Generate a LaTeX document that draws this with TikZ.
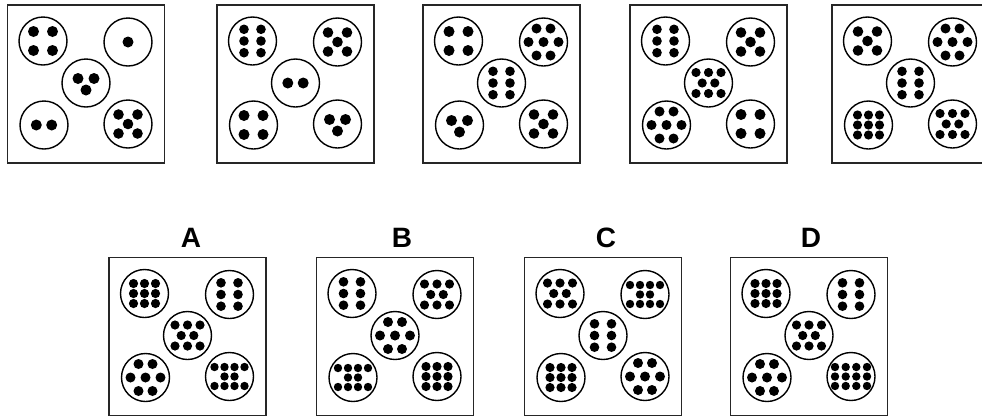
\documentclass[tikz,border=0pt]{standalone}
\usepackage{fontspec}
\setmainfont{Liberation Sans}
\tikzset{
  box/.style={draw=black!85, line width=1.6pt, minimum width=157pt, minimum height=158pt, inner sep=0pt},
  ring/.style={draw=black, circle, line width=1.4pt, minimum size=48pt, inner sep=0pt},
  lbl/.style={font=\fontsize{28}{32}\selectfont\bfseries, inner sep=0pt},
  p1/.pic={\fill (0,0) circle (5.5pt);},
  p2/.pic={\foreach \x in {-7.7,7.7}{\fill (\x,0) circle (5.5pt);}},
  p3/.pic={\fill (-8,-4.5) circle (5.5pt); \fill (8,-4.5) circle (5.5pt); \fill (0,7) circle (5.5pt);},
  p4/.pic={\foreach \x in {-9.5,9.5}{\foreach \y in {-9.5,9.5}{\fill (\x,\y) circle (5.5pt);}}},
  p5/.pic={\foreach \x in {-9.5,9.5}{\foreach \y in {-9.5,9.5}{\fill (\x,\y) circle (5.3pt);}} \fill (0,0) circle (5.3pt);},
  p6/.pic={\foreach \x in {-8.5,8.5}{\foreach \y in {-11.7,0,11.7}{\fill (\x,\y) circle (4.8pt);}}},
  p7/.pic={\foreach \x in {-7,7}{\foreach \y in {-13.5,13.5}{\fill (\x,\y) circle (5pt);}}
           \foreach \x in {-15,0,15}{\fill (\x,0) circle (5pt);}},
  p8/.pic={\foreach \x in {-12.5,0,12.5}{\foreach \y in {-10.5,10.5}{\fill (\x,\y) circle (4.6pt);}}
           \foreach \x in {-6.3,6.3}{\fill (\x,0) circle (4.6pt);}},
  p9/.pic={\foreach \x in {-11,0,11}{\foreach \y in {-10,0,10}{\fill (\x,\y) circle (4.6pt);}}},
  p10/.pic={\foreach \x in {-15,-5,5,15}{\foreach \y in {-9.5,9.5}{\fill (\x,\y) circle (4.2pt);}}
           \foreach \x in {-5,5}{\fill (\x,0) circle (4.2pt);}},
  p12/.pic={\foreach \x in {-16,-5.3,5.3,16}{\foreach \y in {-9.5,0,9.5}{\fill (\x,\y) circle (4.2pt);}}},
}
\newcommand\mypanel[8]{%
  \node[box] (#1) at (#2,#3) {};
  \node[ring] (#1tl) at ([shift={(-43,-43)}]#1.center) {};
  \node[ring] (#1tr) at ([shift={(42,-42)}]#1.center) {};
  \node[ring] (#1c)  at ([shift={(0,-1)}]#1.center) {};
  \node[ring] (#1bl) at ([shift={(-42,41)}]#1.center) {};
  \node[ring] (#1br) at ([shift={(42,40)}]#1.center) {};
  \pic at (#1tl) {#4};
  \pic at (#1tr) {#5};
  \pic at (#1c) {#6};
  \pic at (#1bl) {#7};
  \pic at (#1br) {#8};
}
\begin{document}
\begin{tikzpicture}[x=1pt,y=-1pt]
\path[use as bounding box, clip] (0,0) rectangle (982,416);
\fill[white] (0,0) rectangle (982,416);
% question row
\mypanel{qa}{86}{84}{p4}{p1}{p3}{p2}{p5}
\mypanel{qb}{295.5}{84}{p6}{p5}{p2}{p4}{p3}
\mypanel{qc}{501.5}{84}{p4}{p7}{p6}{p3}{p5}
\mypanel{qd}{708.5}{84}{p6}{p5}{p8}{p7}{p4}
\mypanel{qe}{910.5}{84}{p5}{p7}{p6}{p9}{p8}
% answer row
\mypanel{aa}{187.5}{336.5}{p9}{p6}{p8}{p7}{p10}
\mypanel{ab}{395}{336.5}{p6}{p8}{p7}{p10}{p9}
\mypanel{ac}{603}{336.5}{p8}{p10}{p6}{p9}{p7}
\mypanel{ad}{809}{336.5}{p9}{p6}{p8}{p7}{p12}
\node[lbl] (la) at (191,238) {A};
\node[lbl] (lb) at (402,238) {B};
\node[lbl] (lc) at (606,238) {C};
\node[lbl] (ld) at (811,238) {D};
\end{tikzpicture}
\end{document}
